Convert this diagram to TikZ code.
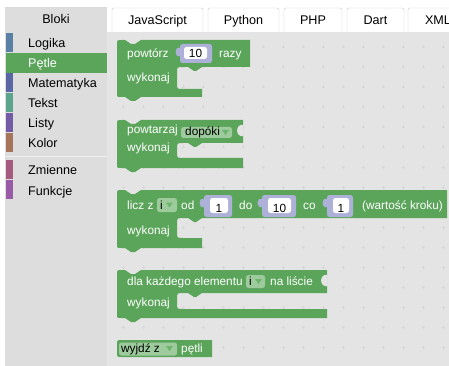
\documentclass[tikz,border=0pt]{standalone}
\usepackage{fontspec}
\setmainfont{Liberation Sans}

\definecolor{loopgreen}{HTML}{5BA55B}
\definecolor{fieldgreen}{HTML}{9DCB9D}
\definecolor{arrowgreen}{HTML}{6DB56D}
\definecolor{slotblue}{HTML}{ADB1D8}
\definecolor{wsgray}{HTML}{E4E4E4}
\definecolor{tbgray}{HTML}{DDDDDD}
\definecolor{tabline}{HTML}{C8C8C8}
\definecolor{gridgray}{HTML}{D6D6D6}
\definecolor{catlogic}{HTML}{5B80A5}
\definecolor{catloop}{HTML}{5BA55B}
\definecolor{catmath}{HTML}{5B67A5}
\definecolor{cattxt}{HTML}{5BA58C}
\definecolor{catlist}{HTML}{745BA5}
\definecolor{catcolour}{HTML}{A5745B}
\definecolor{catvar}{HTML}{A55B80}
\definecolor{catproc}{HTML}{995BA5}

\tikzset{
  uitext/.style={inner sep=0pt, anchor=base, font=\fontsize{12.6}{15}\selectfont},
  catlabel/.style={uitext, anchor=base west},
  blocktext/.style={inner sep=0pt, anchor=base west, text=white, font=\fontsize{11.8}{14}\selectfont},
  fieldtext/.style={inner sep=0pt, anchor=base, font=\fontsize{11.8}{14}\selectfont},
  ddfield/.style={fill=fieldgreen, rounded corners=2.5pt},
  ddarrow/.style={fill=arrowgreen},
}

\begin{document}
\begin{tikzpicture}[x=1pt, y=-1pt]

        \useasboundingbox (0,0) rectangle (449,366);

        % ==========================================
        % 1. Sfondi: area di lavoro e casella strumenti
        % ==========================================
        \fill[wsgray] (107,32) rectangle (449,366);
        \fill[tbgray] (5,32) rectangle (107,366);
        \fill[tbgray] (5,7) rectangle (107,32);
        \node[uitext] (tab-bloki) at (56,24) {Bloki};

        % griglia di crocette
        \foreach \gx in {123,143,...,443}{
            \foreach \gy in {47,67,...,347}{
                \draw[gridgray, line width=0.5pt] (\gx-1.5,\gy) -- (\gx+1.5,\gy) (\gx,\gy-1.5) -- (\gx,\gy+1.5);
            }
        }

        % ==========================================
        % 2. Schede in alto
        % ==========================================
        \foreach \name/\xa/\xb in {JavaScript/112/203, Python/208/279, PHP/284/342, Dart/347/404, XML/408/468}{
            \draw[tabline, fill=white, rounded corners=1.5pt] (\xa,32) -- (\xa,8) -- (\xb,8) -- (\xb,32);
            \node[uitext] (tab-\name) at ({(\xa+\xb)/2},25) {\name};
        }

        % ==========================================
        % 3. Categorie della casella strumenti
        % ==========================================
        \fill[catloop] (6,53) rectangle (107,73);
        \foreach \name/\col/\ya/\tc in {Logika/catlogic/33/black, Pętle/catloop/53/white, Matematyka/catmath/73/black,
                                        Tekst/cattxt/93/black, Listy/catlist/113/black, Kolor/catcolour/133/black,
                                        Zmienne/catvar/160/black, Funkcje/catproc/180/black}{
            \fill[\col] (6,\ya) rectangle (12.5,\ya+19);
            \node[catlabel, text=\tc] (cat-\name) at (28,\ya+15) {\name};
        }
        \draw[white!60!tbgray, line width=1pt] (6,156.5) -- (107,156.5);

        % ==========================================
        % 4. Blocchi a C (ciclo con "wykonaj")
        % ==========================================
        % \t = alto, \r = destra, \m = fondo riga, \n = fondo rientro, \a = braccio, \b = fondo
        \foreach \t/\r/\m/\n/\a/\b in {40/250/67/89/202/97, 120/243/143/158/243/168,
                                       190/447/218/238/202/248, 270/327/293/309/327/318}{
            \pgfmathsetmacro{\ci}{177}
            \fill[loopgreen] (117,\t+5) .. controls (117,\t) .. (122,\t)
                -- (125,\t) -- (131,\t+4) -- (135,\t+4) -- (141,\t)
                -- (\r,\t) -- (\r,\m)
                -- (\ci+25,\m) -- (\ci+19,\m+4) -- (\ci+17,\m+4) -- (\ci+11,\m)
                -- (\ci+6,\m) .. controls (\ci,\m) .. (\ci,\m+6)
                -- (\ci,\n-6) .. controls (\ci,\n) .. (\ci+6,\n)
                -- (\a,\n) -- (\a,\b)
                -- (141,\b) -- (135,\b+4) -- (131,\b+4) -- (125,\b)
                -- (121,\b) .. controls (117,\b) .. (117,\b-4) -- cycle;
        }
        % incavi per gli ingressi vuoti
        \foreach \r/\t in {243/120, 327/270}{
            \fill[wsgray] (\r+0.5,\t+5) .. controls (\r-8,\t+3) and (\r-8,\t+18) .. (\r+0.5,\t+16) -- cycle;
        }

        % ==========================================
        % 5. Blocco "wyjdź z pętli"
        % ==========================================
        \fill[loopgreen] (117,345) .. controls (117,340) .. (122,340) -- (212,340) -- (212,357)
            -- (122,357) .. controls (117,357) .. (117,352) -- cycle;

        % ==========================================
        % 6. Ingressi numerici
        % ==========================================
        \foreach \i/\xa/\xb/\ya/\yb/\fa/\fb/\val in {a/180/212/44/63/184/207/10, b/204/232/195/217/210/228/1,
                                                   c/262/296/195/217/268/291/10, d/327/353/195/217/333/349/1}{
            \fill[slotblue] (\xa,\ya+4) .. controls (\xa-6,\ya+2) and (\xa-6,\ya+14) .. (\xa,\ya+12) -- cycle;
            \fill[slotblue, rounded corners=2.5pt] (\xa,\ya) rectangle (\xb,\yb);
            \fill[white, rounded corners=2.5pt] (\fa,\ya+3) rectangle (\fb,\yb-4);
            \node[fieldtext] (num-\i) at ({(\fa+\fb)/2},\yb-5) {\val};
        }

        % ==========================================
        % 7. Menu a tendina
        % ==========================================
        \fill[ddfield] (181,127) rectangle (232,138);
        \node[fieldtext, anchor=base west] (dd-while) at (185,136) {dopóki};
        \fill[ddarrow] (222,130) -- (229,130) -- (225.5,135) -- cycle;

        \fill[ddfield] (157,198) rectangle (177,212);
        \node[fieldtext, anchor=base west] (dd-var-a) at (160,209.5) {i};
        \fill[ddarrow] (166,202.5) -- (173,202.5) -- (169.5,207.5) -- cycle;

        \fill[ddfield] (246,275) rectangle (265,288);
        \node[fieldtext, anchor=base west] (dd-var-b) at (249,285.5) {i};
        \fill[ddarrow] (255,279) -- (262,279) -- (258.5,284) -- cycle;

        \fill[ddfield] (119,342.5) rectangle (177,355.5);
        \node[fieldtext, anchor=base west] (dd-flow) at (121,352) {wyjdź z};
        \fill[ddarrow] (166,346) -- (173,346) -- (169.5,351) -- cycle;

        % ==========================================
        % 8. Testi dei blocchi
        % ==========================================
        \node[blocktext] (rep-a)  at (127,58) {powtórz};
        \node[blocktext] (rep-b)  at (219,58) {razy};
        \node[blocktext] (rep-do) at (127,82) {wykonaj};

        \node[blocktext] (whl-a)  at (127,134) {powtarzaj};
        \node[blocktext] (whl-do) at (127,152) {wykonaj};

        \node[blocktext] (for-a)  at (127,209.5) {licz z};
        \node[blocktext] (for-b)  at (181,209.5) {od};
        \node[blocktext] (for-c)  at (239,209.5) {do};
        \node[blocktext] (for-d)  at (303,209.5) {co};
        \node[blocktext] (for-e)  at (362,209.5) {(wartość kroku)};
        \node[blocktext] (for-do) at (127,234) {wykonaj};

        \node[blocktext] (each-a)  at (127,285.5) {dla każdego elementu};
        \node[blocktext] (each-b)  at (270,285.5) {na liście};
        \node[blocktext] (each-do) at (127,306) {wykonaj};

        \node[blocktext] (brk-a) at (181,352) {pętli};

    \end{tikzpicture}
\end{document}
